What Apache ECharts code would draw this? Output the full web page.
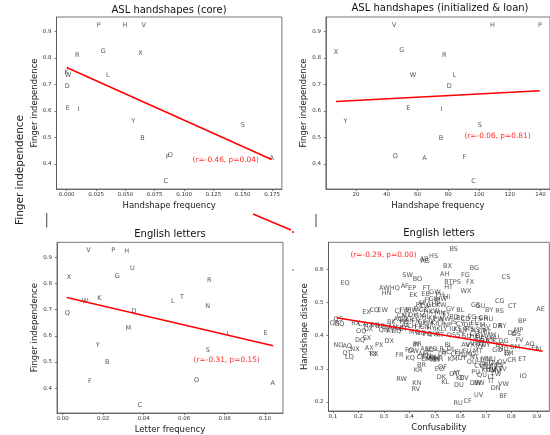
<!DOCTYPE html>
<html><head><meta charset="utf-8">
<script src="https://cdn.jsdelivr.net/npm/echarts@6/dist/echarts.min.js"></script>
<style>html,body{margin:0;padding:0;background:#fff}#c{width:550px;height:435px}</style>
</head><body><div id="c"></div>
<script>
// ---- Panel 1: ASL handshapes (core)
const coreLetters = ["P","H","V","G","X","R","L","W","K","D","E","I","Y","S","B","O","F","C","A"];
const coreFreq    = [0.0273,0.0497,0.0656,0.0312,0.0628,0.009,0.035,0.001,0.000,0.0005,0.001,0.010,0.0568,0.150,0.0645,0.0883,0.0860,0.0844,0.1747];
const coreIndep   = [0.925,0.923,0.924,0.825,0.819,0.809,0.733,0.733,0.745,0.692,0.610,0.607,0.562,0.544,0.498,0.431,0.425,0.336,0.420];
const coreFitX = [0, 0.1747];
const coreFitY = [0.764, 0.417];
const coreTicksX = [0,0.025,0.05,0.075,0.1,0.125,0.15,0.175];
const indepTicks = [0.4,0.5,0.6,0.7,0.8,0.9];

// ---- Panel 2: ASL handshapes (initialized & loan)
const loanLetters = ["V","H","P","X","G","R","W","L","D","E","I","Y","S","B","O","A","F","C"];
const loanFreq    = [44.9,108.8,139.6,7.0,49.7,77.4,57,83.9,80.7,54,75.6,13.2,100.5,75.2,45.5,64.6,90.5,96.5];
const loanIndep   = [0.925,0.925,0.925,0.820,0.827,0.810,0.733,0.733,0.692,0.610,0.607,0.562,0.544,0.498,0.430,0.420,0.425,0.336];
const loanFitX = [7, 139.6];
const loanFitY = [0.636, 0.676];
const loanTicksX = [20,40,60,80,100,120,140];

// ---- Panel 3: English letters (letter frequency)
const engLetters = ["V","P","H","U","G","X","R","T","K","L","W","N","Q","D","M","I","E","Y","S","B","O","F","A","C"];
const engFreq    = [0.0127,0.025,0.0316,0.0344,0.027,0.0031,0.0725,0.059,0.0181,0.0544,0.011,0.0717,0.0023,0.0352,0.0324,0.0816,0.1003,0.0173,0.0717,0.022,0.0662,0.0135,0.1038,0.0382];
const engIndep   = [0.927,0.927,0.924,0.856,0.826,0.822,0.810,0.748,0.743,0.733,0.733,0.711,0.687,0.693,0.629,0.607,0.610,0.563,0.544,0.499,0.431,0.426,0.420,0.335];
const engFitX = [0.002, 0.104];
const engFitY = [0.746, 0.562];
const engTicksX = [0,0.02,0.04,0.06,0.08,0.10];

// ---- Panel 4: English letter pairs (confusability vs handshape distance)
const pairLabels = [
 "BS","HS","AB","AG","BX","BG","AH","FG","CS","SW",
 "BO","EQ","BT","PS","FX","AW","HQ","AF","EP","FT",
 "HT","WX","HN","EK","EB","GW","FH","HI","AP","CG",
 "CT","AE","GY","BL","GS","GU","BY","RS","CQ","EW",
 "EX","CI","FW","IW","OS","QR","GQ","RX","BP","MP",
 "DR","RY","DE","DS","FV","AO","DG","CK","AI","EI",
 "BM","EM","CR","ET","IO","OQ","OX","DQ","SX","PX",
 "DX","NO","AQ","NX","AX","QT","LQ","TX","KX","IR",
 "PR","FR","FO","OW","KQ","AD","BR","KR","RW","KN",
 "RV","OF","EO","DK","KL","OT","AT","KT","DV","DU",
 "DW","BW","IT","LT","VW","DN","BF","UV","CF","RU",
 "FI","GI","IP","HW","FY","CW","GL","HP","KW","MW",
 "FL","GK","HK","LW","MN","EY","CL","DH","GM","HL",
 "KP","PW","NW","AK","FN","GP","HM","KY","LP","NP",
 "AL","CH","FP","GN","HY","IK","LY","MQ","NQ","PQ","QW","RT",
 "CX","HX","DP","EH","AN","CP","QN","AY","BQ","GT","FQ","BK","AC","CM","BN",
 "AM","EN","IN","IM","LM","MR","NR","HR","AS","ES","LR","DT","CE",
 "BD","BE","CD","EG","FS","GR","HU","IS","CY","DF","EL","FM","GV","IU","KS","LN","MS","NS","OP","PT","QS","ST","SU","TU","SV","SY","UW","UX","UY","VX","VY","WY","XY","CU","DM","EU",
 "FU","MT","OL","DY","CO","EV","IL","MO","NT","KM","BC","BI","AV",
 "CV","FK","GX","HV","IV","KV","LV","MV","NV","OV","PV","QV","KU","LU","MU","NU","OU","PU","QU","TW","TV","IX",
 "AU","BV","GO","HO"
];
const pairConf = [
 .574,.495,.458,.462,.550,.655,.539,.620,.779,.393,
 .432,.148,.554,.586,.638,.302,.343,.382,.411,.468,
 .554,.622,.311,.416,.464,.500,.520,.548,.450,.755,
 .804,.915,.561,.600,.660,.680,.713,.754,.263,.295,
 .232,.355,.380,.377,.121,.107,.125,.190,.843,.828,
 .745,.765,.804,.820,.832,.873,.769,.726,.906,.890,
 .815,.790,.802,.843,.847,.211,.239,.207,.234,.282,
 .321,.122,.156,.187,.243,.156,.165,.256,.262,.425,
 .432,.361,.400,.415,.403,.478,.448,.435,.370,.429,
 .425,.530,.518,.526,.541,.574,.585,.598,.615,.594,
 .659,.675,.721,.720,.769,.739,.769,.672,.629,.591,
 .470,.490,.510,.525,.440,.460,.485,.505,.525,.410,
 .430,.455,.475,.500,.520,.545,.390,.415,.440,.465,
 .490,.515,.540,.400,.425,.450,.475,.500,.525,.550,
 .385,.410,.435,.460,.485,.510,.535,.420,.445,.470,.495,.520,
 .215,.240,.285,.310,.335,.360,.300,.325,.350,.375,.380,.330,.355,.370,.265,
 .455,.470,.490,.505,.465,.485,.500,.515,.460,.490,.520,.530,.445,
 .575,.600,.620,.645,.670,.690,.710,.575,.600,.630,.655,.680,.700,.570,.590,.610,.635,.660,.685,.705,.565,.600,.625,.650,.672,.695,.660,.680,.700,.640,.675,.720,.715,.655,.680,.690,
 .626,.669,.564,.607,.580,.595,.615,.640,.655,.570,.545,.550,.620,
 .672,.690,.705,.720,.735,.750,.725,.740,.710,.730,.755,.765,.700,.680,.700,.720,.645,.660,.685,.740,.765,.785,
 .735,.755,.745,.770
];
const pairDist = [
 .660,.640,.631,.624,.608,.602,.585,.582,.577,.581,
 .570,.556,.562,.562,.560,.543,.543,.548,.541,.541,
 .545,.534,.526,.520,.523,.530,.520,.516,.498,.502,
 .487,.480,.480,.477,.490,.487,.475,.473,.477,.475,
 .471,.474,.475,.447,.449,.437,.434,.437,.443,.417,
 .427,.428,.407,.403,.385,.375,.384,.382,.359,.362,
 .364,.348,.327,.330,.276,.414,.419,.387,.392,.372,
 .384,.370,.367,.359,.362,.347,.334,.345,.343,.372,
 .373,.342,.356,.354,.332,.357,.312,.297,.267,.257,
 .239,.305,.300,.273,.260,.284,.287,.272,.270,.249,
 .257,.257,.262,.274,.252,.242,.218,.219,.203,.196,
 .505,.510,.505,.510,.490,.488,.492,.495,.490,.475,
 .478,.475,.470,.472,.468,.465,.462,.460,.458,.455,
 .452,.450,.448,.445,.443,.440,.438,.436,.434,.432,
 .430,.428,.426,.424,.422,.420,.418,.410,.408,.405,.404,.400,
 .433,.431,.428,.425,.424,.422,.415,.414,.412,.418,.440,.440,.450,.458,.430,
 .345,.338,.335,.333,.330,.328,.326,.330,.360,.360,.360,.345,.335,
 .455,.452,.450,.455,.450,.452,.448,.440,.435,.432,.438,.430,.425,.420,.418,.415,.418,.415,.412,.410,.400,.400,.398,.395,.392,.390,.378,.375,.372,.370,.365,.400,.385,.405,.398,.383,
 .354,.352,.360,.332,.345,.350,.340,.345,.335,.330,.350,.370,.370,
 .307,.310,.305,.300,.307,.300,.295,.292,.315,.318,.312,.320,.295,.325,.330,.330,.320,.290,.280,.283,.300,.345,
 .395,.370,.355,.360
];
const pairFitX = [0.115, 0.923];
const pairFitY = [0.454, 0.353];
const pairTicksX = [0.1,0.2,0.3,0.4,0.5,0.6,0.7,0.8,0.9];
const pairTicksY = [0.2,0.3,0.4,0.5,0.6];

const FF = "DejaVu Sans";
const EDGE = '#555';

function pts(names, xs, ys){ return names.map((n,i)=>({name:n, value:[xs[i], ys[i]]})); }
function fit(xs, ys){ return xs.map((x,i)=>[x, ys[i]]); }

function xAx(gi, min, max, ticks, dec, name, gap){
  return {type:'value', gridIndex:gi, min:min, max:max, name:name, nameLocation:'middle', nameGap:gap,
    nameTextStyle:{fontSize:8.5, color:'#222', fontFamily:FF},
    axisLine:{show:true, onZero:false, lineStyle:{color:EDGE, width:0.8}},
    axisTick:{show:true, customValues:ticks, length:2, lineStyle:{color:EDGE, width:0.8}},
    axisLabel:{customValues:ticks, formatter:v=>Number(v).toFixed(dec), fontSize:5.5, color:'#333', margin:3, fontFamily:FF},
    splitLine:{show:false}};
}
function yAx(gi, min, max, ticks, dec, name, gap){
  return {type:'value', gridIndex:gi, min:min, max:max, name:name, nameLocation:'middle', nameGap:gap,
    nameTextStyle:{fontSize:8.5, color:'#222', fontFamily:FF},
    axisLine:{show:true, onZero:false, lineStyle:{color:EDGE, width:0.8}},
    axisTick:{show:true, customValues:ticks, length:2, lineStyle:{color:EDGE, width:0.8}},
    axisLabel:{customValues:ticks, formatter:v=>Number(v).toFixed(dec), fontSize:5.5, color:'#333', margin:5, fontFamily:FF},
    splitLine:{show:false}};
}
function scat(gi, data){
  return {type:'scatter', xAxisIndex:gi, yAxisIndex:gi, data:data, symbol:'circle', symbolSize:1, silent:true,
    itemStyle:{color:'rgba(0,0,0,0)'},
    label:{show:true, position:'inside', formatter:p=>p.name, fontSize:6.5, color:'#2a2a2a', fontFamily:FF}};
}
function line(gi, data){
  return {type:'line', xAxisIndex:gi, yAxisIndex:gi, data:data, symbol:'none', silent:true, z:5,
    lineStyle:{color:'#ff0000', width:1.5}};
}
function ttl(text, x, y){
  return {text:text, left:x, top:y, textAlign:'center', padding:0,
    textStyle:{fontSize:10, fontWeight:'normal', color:'#111', fontFamily:FF}};
}
function note(text, x, y){
  return {type:'text', x:x, y:y, silent:true, z:10,
    style:{text:text, fill:'#ff2a2a', fontSize:7.4, fontFamily:FF, align:'center', verticalAlign:'middle', textAlign:'center', textVerticalAlign:'middle'}};
}
const gridBase = {show:true, borderColor:EDGE, borderWidth:0.8, backgroundColor:'transparent', containLabel:false};

const option = {
  animation:false,
  backgroundColor:'#fff',
  title:[
    ttl('ASL handshapes (core)', 169, 5),
    ttl('ASL handshapes (initialized & loan)', 440, 3),
    ttl('English letters', 170, 229.5),
    ttl('English letters', 439, 228.5)
  ],
  grid:[
    Object.assign({left:56.5, top:17, width:225.4, height:172}, gridBase),
    Object.assign({left:325.9, top:17, width:228.8, height:172}, gridBase),
    Object.assign({left:57, top:242.3, width:226, height:171}, gridBase),
    Object.assign({left:328.5, top:242.3, width:220.8, height:168.7}, gridBase)
  ],
  xAxis:[
    xAx(0, -0.0087, 0.1834, coreTicksX, 3, 'Handshape frequency', 12),
    xAx(1, 0.4, 146.2, loanTicksX, 0, 'Handshape frequency', 12.5),
    xAx(2, -0.0028, 0.1089, engTicksX, 2, 'Letter frequency', 12),
    xAx(3, 0.083, 0.949, pairTicksX, 1, 'Confusability', 12.5)
  ],
  yAxis:[
    yAx(0, 0.3055, 0.9545, indepTicks, 1, 'Finger independence', 15),
    yAx(1, 0.3055, 0.9545, indepTicks, 1, 'Finger independence', 15),
    yAx(2, 0.3054, 0.9566, indepTicks, 1, 'Finger independence', 17.5),
    yAx(3, 0.173, 0.681, pairTicksY, 1, 'Handshape distance', 19)
  ],
  series:[
    line(0, fit(coreFitX, coreFitY)),
    scat(0, pts(coreLetters, coreFreq, coreIndep)),
    line(1, fit(loanFitX, loanFitY)),
    scat(1, pts(loanLetters, loanFreq, loanIndep)),
    line(2, fit(engFitX, engFitY)),
    scat(2, pts(engLetters, engFreq, engIndep)),
    scat(3, pts(pairLabels, pairConf, pairDist)),
    line(3, fit(pairFitX, pairFitY))
  ],
  graphic:[
    note('(r=-0.46, p=0.04)', 225.7, 160.3),
    note('(r=-0.06, p=0.81)', 497.5, 135.7),
    note('(r=-0.31, p=0.15)', 226.7, 359.7),
    note('(r=-0.29, p=0.00)', 383.5, 255.5),
    {type:'text', x:20, y:170, rotation:Math.PI/2, silent:true,
      style:{text:'Finger independence', fill:'#222', fontSize:10.5, fontFamily:FF, align:'center', verticalAlign:'middle', textAlign:'center', textVerticalAlign:'middle'}},
    {type:'line', silent:true, shape:{x1:46.7, y1:213, x2:46.7, y2:227.5}, style:{stroke:'#555', lineWidth:1.1}},
    {type:'line', silent:true, shape:{x1:253, y1:214, x2:291, y2:230}, style:{stroke:'#ff0000', lineWidth:1.5}},
    {type:'circle', silent:true, shape:{cx:293, cy:232, r:1}, style:{fill:'#ff0000'}},
    {type:'line', silent:true, shape:{x1:316, y1:214, x2:316, y2:227}, style:{stroke:'#555', lineWidth:1.1}},
    {type:'circle', silent:true, shape:{cx:293, cy:270, r:0.8}, style:{fill:'#666'}}
  ]
};
const chart = echarts.init(document.getElementById('c'), null, {renderer:'canvas'});
chart.setOption(option);
</script>
</body></html>
